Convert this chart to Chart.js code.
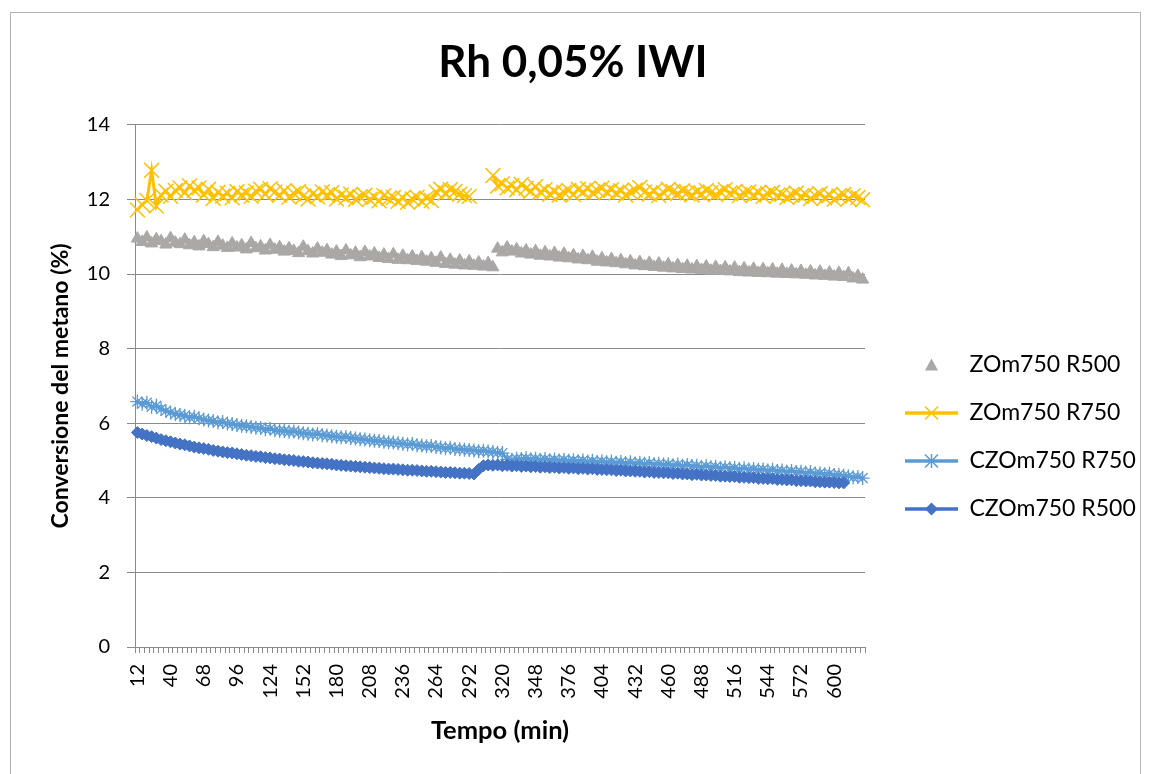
<!DOCTYPE html>
<html>
<head>
<meta charset="utf-8">
<script src="https://cdn.jsdelivr.net/npm/chart.js@4.4.1/dist/chart.umd.min.js"></script>
<style>
  html, body { margin: 0; padding: 0; background: #fff; }
  canvas { display: block; }
</style>
</head>
<body>
<canvas id="chart" width="1151" height="774"></canvas>
<script>
// Sampling times (min)
const categories = [
  12,16,20,24,28,32,36,40,44,48,
  52,56,60,64,68,72,76,80,84,88,
  92,96,100,104,108,112,116,120,124,128,
  132,136,140,144,148,152,156,160,164,168,
  172,176,180,184,188,192,196,200,204,208,
  212,216,220,224,228,232,236,240,244,248,
  252,256,260,264,268,272,276,280,284,288,
  292,296,300,304,308,312,316,320,324,328,
  332,336,340,344,348,352,356,360,364,368,
  372,376,380,384,388,392,396,400,404,408,
  412,416,420,424,428,432,436,440,444,448,
  452,456,460,464,468,472,476,480,484,488,
  492,496,500,504,508,512,516,520,524,528,
  532,536,540,544,548,552,556,560,564,568,
  572,576,580,584,588,592,596,600,604,608,
  612,616,620,624
];

// Methane conversion (%) for each sample
const zom750R500 = [
  10.95,10.86,10.98,10.82,10.93,10.88,10.79,10.96,10.84,10.80,
  10.92,10.77,10.85,10.74,10.88,10.80,10.72,10.86,10.76,10.70,
  10.82,10.71,10.77,10.66,10.83,10.69,10.74,10.63,10.78,10.65,
  10.72,10.60,10.69,10.62,10.56,10.73,10.61,10.55,10.68,10.57,
  10.64,10.52,10.60,10.48,10.63,10.50,10.57,10.45,10.59,10.47,
  10.55,10.43,10.52,10.40,10.53,10.38,10.49,10.37,10.47,10.35,
  10.45,10.33,10.42,10.30,10.44,10.27,10.38,10.25,10.36,10.23,
  10.34,10.22,10.31,10.20,10.29,10.18,10.68,10.58,10.71,10.60,
  10.66,10.55,10.63,10.52,10.61,10.49,10.58,10.47,10.56,10.44,
  10.54,10.42,10.50,10.39,10.48,10.37,10.46,10.33,10.42,10.31,
  10.40,10.29,10.37,10.26,10.34,10.23,10.32,10.21,10.30,10.19,
  10.28,10.17,10.26,10.15,10.24,10.13,10.22,10.12,10.21,10.11,
  10.20,10.09,10.19,10.08,10.18,10.07,10.17,10.05,10.15,10.04,
  10.14,10.03,10.13,10.02,10.12,10.01,10.11,10.00,10.09,9.99,
  10.08,9.98,10.07,9.96,10.06,9.95,10.04,9.93,10.03,9.92,
  10.02,9.88,9.95,9.85
];

const zom750R750 = [
  11.72,11.86,11.97,12.78,11.82,12.12,12.22,12.08,12.24,12.31,
  12.18,12.36,12.24,12.31,12.12,12.27,12.03,12.19,12.09,12.16,
  12.04,12.21,12.12,12.17,12.08,12.22,12.27,12.14,12.29,12.20,
  12.11,12.23,12.06,12.16,12.21,12.09,12.01,12.15,12.07,12.20,
  12.12,12.18,12.01,12.12,12.05,12.14,12.00,12.07,12.11,12.00,
  12.06,11.96,12.10,12.02,12.05,11.95,12.04,11.92,12.01,12.06,
  11.95,12.04,11.97,12.20,12.27,12.17,12.26,12.21,12.14,12.10,
  12.08,null,null,null,null,12.64,12.36,12.42,12.31,12.37,
  12.26,12.40,12.30,12.22,12.34,12.20,12.26,12.14,12.21,12.12,
  12.19,12.24,12.13,12.27,12.20,12.29,12.18,12.24,12.30,12.20,
  12.26,12.17,12.23,12.12,12.19,12.25,12.32,12.20,12.14,12.22,
  12.10,12.18,12.27,12.21,12.16,12.23,12.18,12.12,12.20,12.15,
  12.24,12.18,12.13,12.20,12.26,12.17,12.21,12.10,12.16,12.20,
  12.12,12.18,12.08,12.15,12.19,12.10,12.14,12.05,12.12,12.17,
  12.08,12.13,12.02,12.10,12.15,12.04,12.11,12.00,12.09,12.13,
  12.02,12.10,12.05,11.99
];

const czom750R750 = [
  6.58,6.52,6.55,6.44,6.47,6.38,6.33,6.29,6.25,6.22,
  6.20,6.16,6.17,6.13,6.10,6.07,6.06,6.02,6.03,5.99,
  5.98,5.95,5.93,5.92,5.90,5.88,5.87,5.84,5.85,5.81,
  5.80,5.79,5.77,5.78,5.75,5.73,5.72,5.70,5.71,5.68,
  5.67,5.65,5.64,5.62,5.63,5.60,5.59,5.57,5.56,5.54,
  5.53,5.52,5.50,5.49,5.48,5.46,5.45,5.43,5.44,5.41,
  5.40,5.38,5.39,5.36,5.35,5.33,5.34,5.31,5.30,5.29,
  5.28,5.27,5.25,5.26,5.24,5.23,5.21,5.20,5.03,5.02,
  5.05,5.04,5.06,5.03,5.05,5.02,5.04,5.01,5.03,5.00,
  5.02,4.99,5.01,4.98,5.00,4.97,4.99,4.96,4.98,4.95,
  4.97,4.94,4.96,4.93,4.95,4.92,4.94,4.91,4.93,4.90,
  4.91,4.89,4.90,4.87,4.89,4.86,4.88,4.85,4.86,4.83,
  4.85,4.82,4.83,4.80,4.82,4.79,4.80,4.77,4.79,4.76,
  4.77,4.75,4.76,4.73,4.75,4.72,4.73,4.70,4.72,4.69,
  4.70,4.67,4.69,4.65,4.66,4.63,4.65,4.61,4.62,4.59,
  4.58,4.55,4.56,4.53
];

const czom750R500 = [
  5.75,5.71,5.67,5.64,5.60,5.56,5.53,5.50,5.47,5.44,
  5.42,5.39,5.36,5.34,5.32,5.30,5.27,5.25,5.23,5.21,
  5.20,5.18,5.16,5.14,5.13,5.11,5.10,5.08,5.07,5.05,
  5.04,5.02,5.01,5.00,4.98,4.97,4.96,4.94,4.93,4.92,
  4.91,4.90,4.88,4.87,4.86,4.85,4.84,4.83,4.82,4.81,
  4.80,4.79,4.78,4.77,4.77,4.76,4.75,4.74,4.74,4.73,
  4.72,4.71,4.71,4.70,4.69,4.68,4.68,4.67,4.66,4.66,
  4.65,4.64,4.76,4.86,4.88,4.87,4.88,4.86,4.87,4.85,
  4.86,4.84,4.85,4.83,4.84,4.82,4.83,4.81,4.82,4.80,
  4.81,4.79,4.80,4.78,4.79,4.77,4.78,4.76,4.76,4.75,
  4.75,4.73,4.74,4.72,4.72,4.71,4.71,4.69,4.70,4.68,
  4.68,4.67,4.67,4.65,4.66,4.64,4.64,4.62,4.63,4.61,
  4.61,4.60,4.60,4.58,4.58,4.57,4.57,4.55,4.55,4.54,
  4.54,4.52,4.52,4.51,4.51,4.49,4.49,4.48,4.48,4.46,
  4.46,4.45,4.45,4.43,4.43,4.42,4.42,4.41,4.40,4.40,
  null,null,null,null
];

const seriesNames = ['ZOm750 R500', 'ZOm750 R750', 'CZOm750 R750', 'CZOm750 R500'];
const yTicks = { min: 0, max: 14, step: 2 };
const labelEvery = 7;

const GREY = '#AAA7A7';
const YELLOW = '#FFC000';
const LIGHT_BLUE = '#5B9BD5';
const DARK_BLUE = '#4472C4';
const GRID = '#8A8A8A';
const FONT = 'Lato';

// Canvas layout (px)
const W = 1151, H = 774;
const PLOT = { left: 135, right: 865, bottom: 647 };
const PAD = { top: 10, left: 0, bottom: 25 };

// Legend swatches: a short line segment with the series marker on it
const SW_W = 68, SW_H = 24, LINE_X0 = 15;
function swatch(color, marker, withLine) {
  const c = document.createElement('canvas');
  c.width = SW_W; c.height = SW_H;
  const g = c.getContext('2d');
  const cx = (LINE_X0 + SW_W) / 2, cy = SW_H / 2;
  g.strokeStyle = color; g.fillStyle = color;
  if (withLine) {
    g.lineWidth = 3.5;
    g.beginPath(); g.moveTo(LINE_X0, cy); g.lineTo(SW_W, cy); g.stroke();
  }
  g.lineWidth = 1.5;
  g.beginPath();
  if (marker === 'triangle') {
    g.moveTo(cx, cy - 6.5); g.lineTo(cx + 6.5, cy + 5.5); g.lineTo(cx - 6.5, cy + 5.5); g.closePath(); g.fill();
  } else if (marker === 'x') {
    g.moveTo(cx - 6.5, cy - 6.5); g.lineTo(cx + 6.5, cy + 6.5);
    g.moveTo(cx + 6.5, cy - 6.5); g.lineTo(cx - 6.5, cy + 6.5); g.stroke();
  } else if (marker === 'star') {
    g.moveTo(cx - 6.5, cy - 6.5); g.lineTo(cx + 6.5, cy + 6.5);
    g.moveTo(cx + 6.5, cy - 6.5); g.lineTo(cx - 6.5, cy + 6.5);
    g.moveTo(cx, cy - 7); g.lineTo(cx, cy + 7); g.stroke();
  } else if (marker === 'diamond') {
    g.moveTo(cx, cy - 6.5); g.lineTo(cx + 6.5, cy); g.lineTo(cx, cy + 6.5); g.lineTo(cx - 6.5, cy); g.closePath(); g.fill();
  }
  return c;
}
const swatches = [
  swatch(GREY, 'triangle', false),
  swatch(YELLOW, 'x', true),
  swatch(LIGHT_BLUE, 'star', true),
  swatch(DARK_BLUE, 'diamond', true)
];

// Right padding so the plot ends where the legend column begins
const LEGEND_FONT = 23, LEGEND_PAD = 25;
const measure = document.createElement('canvas').getContext('2d');
measure.font = LEGEND_FONT + 'px ' + FONT;
const widestName = Math.max(...seriesNames.map(s => measure.measureText(s).width));
const legendWidth = LEGEND_PAD + SW_W + LEGEND_FONT / 2 + widestName + 10;
const padRight = Math.max(0, W - PLOT.right - legendWidth);

const framePlugin = {
  id: 'frame',
  beforeDraw(chart) {
    const ctx = chart.ctx;
    ctx.save();
    ctx.fillStyle = '#fff';
    ctx.fillRect(0, 0, chart.width, chart.height);
    ctx.strokeStyle = '#B4B4B4';
    ctx.lineWidth = 1;
    ctx.strokeRect(10.5, 12.5, 1130, 800);
    ctx.restore();
  }
};

new Chart(document.getElementById('chart'), {
  type: 'line',
  data: {
    labels: categories,
    datasets: [
      {
        label: seriesNames[0], data: zom750R500, order: 3,
        showLine: false,
        borderColor: GREY, backgroundColor: GREY,
        pointStyle: 'triangle', pointRadius: 7,
        pointBackgroundColor: GREY, pointBorderColor: GREY, pointBorderWidth: 1
      },
      {
        label: seriesNames[1], data: zom750R750, order: 2,
        borderColor: YELLOW, backgroundColor: YELLOW, borderWidth: 3, spanGaps: false,
        pointStyle: 'crossRot', pointRadius: 10.5,
        pointBorderColor: YELLOW, pointBackgroundColor: YELLOW, pointBorderWidth: 1.5
      },
      {
        label: seriesNames[2], data: czom750R750, order: 1,
        borderColor: LIGHT_BLUE, backgroundColor: LIGHT_BLUE, borderWidth: 3,
        pointStyle: 'star', pointRadius: 7,
        pointBorderColor: LIGHT_BLUE, pointBackgroundColor: LIGHT_BLUE, pointBorderWidth: 1.3
      },
      {
        label: seriesNames[3], data: czom750R500, order: 0,
        borderColor: DARK_BLUE, backgroundColor: DARK_BLUE, borderWidth: 3, spanGaps: false,
        pointStyle: 'rectRot', pointRadius: 6,
        pointBorderColor: DARK_BLUE, pointBackgroundColor: DARK_BLUE, pointBorderWidth: 1
      }
    ]
  },
  options: {
    responsive: false,
    animation: false,
    devicePixelRatio: 1,
    elements: { line: { tension: 0 } },
    layout: { padding: { top: PAD.top, left: PAD.left, right: padRight, bottom: PAD.bottom } },
    plugins: {
      tooltip: { enabled: false },
      title: {
        display: true,
        text: 'Rh 0,05% IWI',
        color: '#000',
        font: { family: FONT, size: 44, weight: 'bold' },
        padding: { top: 26, bottom: 36 }
      },
      legend: {
        position: 'right',
        reverse: true,
        title: { display: true, text: '', font: { size: 10 }, padding: { top: 103, bottom: 0 } },
        labels: {
          usePointStyle: true,
          pointStyleWidth: SW_W,
          padding: LEGEND_PAD,
          color: '#000',
          font: { family: FONT, size: LEGEND_FONT },
          generateLabels(chart) {
            const items = Chart.defaults.plugins.legend.labels.generateLabels(chart);
            items.forEach(it => { it.pointStyle = swatches[it.datasetIndex]; });
            return items;
          }
        }
      }
    },
    scales: {
      x: {
        type: 'category',
        offset: true,
        afterFit(scale) { scale.height = H - PAD.bottom - PLOT.bottom; },
        grid: { display: true, drawOnChartArea: false, drawTicks: true, tickLength: 6, color: GRID, offset: true },
        border: { display: true, color: GRID, width: 1 },
        ticks: {
          autoSkip: false, minRotation: 90, maxRotation: 90, padding: 11,
          color: '#000', font: { family: FONT, size: 20 },
          callback(value, index) { return index % labelEvery === 0 ? this.getLabelForValue(value) : ''; }
        },
        title: {
          display: true, text: 'Tempo (min)', color: '#000',
          font: { family: FONT, size: 25.5, weight: 'bold' },
          padding: { top: 4, bottom: 3 }
        }
      },
      y: {
        min: yTicks.min, max: yTicks.max,
        afterFit(scale) { scale.width = PLOT.left - PAD.left; },
        grid: { color: GRID, tickLength: 8, drawTicks: true },
        border: { display: true, color: GRID, width: 1 },
        ticks: { stepSize: yTicks.step, padding: 17, color: '#000', font: { family: FONT, size: 20 } },
        title: {
          display: true, text: 'Conversione del metano (%)', color: '#000',
          font: { family: FONT, size: 23, weight: 'bold' },
          padding: { top: 47, bottom: 4 }
        }
      }
    }
  },
  plugins: [framePlugin]
});
</script>
</body>
</html>
